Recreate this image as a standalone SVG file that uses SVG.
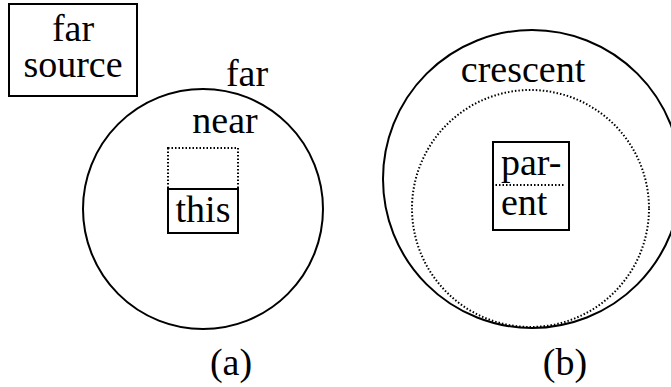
<svg xmlns="http://www.w3.org/2000/svg" width="671" height="387" viewBox="0 0 671 387">
<style>
text{font-family:'Liberation Serif','Times New Roman','DejaVu Serif',serif;font-size:38px;fill:#000}
.c{text-anchor:middle}
.s{fill:none;stroke:#000;stroke-width:2}
.d{fill:none;stroke:#000;stroke-width:2;stroke-dasharray:1.5 2}
</style>
<rect width="671" height="387" fill="#fff"/>
<g id="far-source">
<rect class="s" x="9" y="4" width="128" height="92"/>
<text class="c" x="73" y="41" font-family="Liberation Serif, serif">far</text>
<text class="c" x="73" y="77" font-family="Liberation Serif, serif">source</text>
</g>
<g id="far-circle">
<circle class="s" cx="203" cy="209" r="120"/>
<text class="c" x="247" y="86" font-family="Liberation Serif, serif">far</text>
<text class="c" x="225" y="133" font-family="Liberation Serif, serif">near</text>
</g>
<g id="near-box">
<rect class="d" x="168" y="148" width="70" height="41"/>
</g>
<g id="this">
<rect class="s" x="168" y="189" width="70" height="44"/>
<text class="c" x="203" y="222" font-family="Liberation Serif, serif">this</text>
</g>
<g id="crescent">
<circle class="s" cx="532" cy="179" r="149"/>
<circle class="d" cx="530.5" cy="208.5" r="118.5"/>
<text class="c" x="523" y="82" font-family="Liberation Serif, serif">crescent</text>
</g>
<g id="parent">
<rect class="s" x="493" y="142" width="76" height="88"/>
<line class="d" x1="492" y1="185" x2="565" y2="185"/>
<text x="501" y="175" font-family="Liberation Serif, serif">par-</text>
<text x="501" y="215" font-family="Liberation Serif, serif">ent</text>
</g>
<g id="captions">
<text class="c" x="231" y="375" font-family="Liberation Serif, serif">(a)</text>
<text class="c" x="565" y="375" font-family="Liberation Serif, serif">(b)</text>
</g>
<g id="connectors"/>
</svg>
